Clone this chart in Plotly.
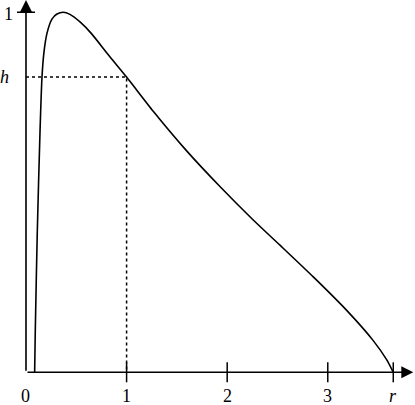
import plotly.graph_objects as go

# curve
r_vals = [0.086, 0.092, 0.112, 0.139, 0.159, 0.179, 0.209, 0.258, 0.308, 0.371, 0.437,
          0.537, 0.653, 0.818, 1.0, 1.265, 1.597, 1.928, 2.259, 2.525, 2.856, 3.188,
          3.452, 3.585, 3.651]
f_vals = [0.0, 0.109, 0.387, 0.665, 0.82, 0.89, 0.942, 0.981, 0.995, 1.0, 0.994,
          0.973, 0.94, 0.882, 0.82, 0.725, 0.615, 0.516, 0.423, 0.353, 0.265, 0.172,
          0.088, 0.035, 0.0]

h = 0.82
r_end = 3.651
x_ticks = [1, 2, 3, r_end]
x_tick_labels = ["1", "2", "3", "<i>r</i>"]

fnt = dict(family="Liberation Serif, Times New Roman, serif", size=18, color="black")

fig = go.Figure()

# dotted guide lines
fig.add_trace(go.Scatter(x=[0, 1, 1], y=[h, h, 0], mode="lines",
                         line=dict(color="black", width=1.5, dash="dot")))

fig.add_trace(go.Scatter(x=r_vals, y=f_vals, mode="lines",
                         line=dict(color="black", width=1.6, shape="spline", smoothing=0.6)))

# axes with arrows
fig.add_annotation(x=3.85, y=0, ax=0, ay=0, xref="x", yref="y", axref="x", ayref="y",
                   text="", showarrow=True, arrowhead=2, arrowsize=1.5, arrowwidth=1.6,
                   arrowcolor="black")
fig.add_annotation(x=0, y=1.034, ax=0, ay=0, xref="x", yref="y", axref="x", ayref="y",
                   text="", showarrow=True, arrowhead=2, arrowsize=1.5, arrowwidth=1.6,
                   arrowcolor="black")

# ticks
for t in x_ticks:
    fig.add_shape(type="line", xref="x", yref="y", x0=t, x1=t, ysizemode="pixel",
                  yanchor=0, y0=-10, y1=10, line=dict(color="black", width=1.5))
fig.add_shape(type="line", xref="x", yref="y", y0=1, y1=1, xsizemode="pixel",
              xanchor=0, x0=-9, x1=9, line=dict(color="black", width=1.5))

# labels
fig.add_annotation(x=0, y=0, text="0", showarrow=False, yshift=-24, font=fnt)
for t, lab in zip(x_ticks, x_tick_labels):
    fig.add_annotation(x=t, y=0, text=lab, showarrow=False, yshift=-24, font=fnt)
fig.add_annotation(x=0, y=1, text="1", showarrow=False, xshift=-17, yshift=-2, font=fnt)
fig.add_annotation(x=0, y=h, text="<i>h</i>", showarrow=False, xshift=-21, font=fnt)

fig.update_layout(
    width=415, height=405,
    margin=dict(l=0, r=0, t=0, b=0),
    plot_bgcolor="white", paper_bgcolor="white",
    showlegend=False,
    xaxis=dict(range=[-0.2584, 3.867], visible=False),
    yaxis=dict(range=[-0.0908, 1.034], visible=False),
)

# page has a default body margin; drop it so the figure sits at the corner
fig.write_html("out.html", config={"displayModeBar": False},
               post_script="document.body.style.margin='0';")
